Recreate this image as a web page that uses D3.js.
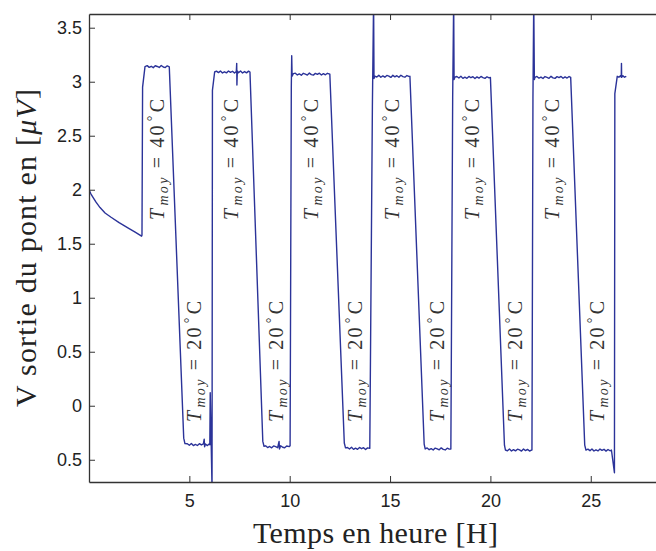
<!DOCTYPE html>
<html>
<head>
<meta charset="utf-8">
<script src="https://cdn.jsdelivr.net/npm/d3@7"></script>
<style>
  html, body { margin: 0; padding: 0; background: #fff; }
  svg { display: block; }
</style>
</head>
<body>
<svg id="chart" width="656" height="551"></svg>
<script>
// ---- data (time in hours, bridge output in µV) ----
const timeH = [
  0, 0.1, 0.2, 0.35, 0.55, 0.8, 1.1, 1.5, 2.0, 2.3, 2.62,
  2.64, 2.67, 2.79, 2.9, 3.0, 3.1, 3.2, 3.3, 3.4, 3.5, 3.6, 3.7, 3.8, 3.9, 4.0,
  4.72, 4.78, 4.9, 5.0, 5.1, 5.2, 5.3, 5.4, 5.5, 5.6, 5.7, 5.74, 5.76, 5.8, 5.9, 6.0, 6.02,
  6.04, 6.13, 6.15, 6.26,
  6.35, 6.45, 6.55, 6.65, 6.75, 6.85, 6.95, 7.05, 7.15, 7.25, 7.34, 7.36, 7.37, 7.39, 7.45, 7.55, 7.65, 7.75, 7.85, 7.95, 8.02,
  8.66, 8.72, 8.8, 8.9, 9.0, 9.1, 9.2, 9.3, 9.4, 9.47, 9.49, 9.55, 9.65, 9.75, 9.85, 9.98,
  10.02, 10.08, 10.1, 10.12, 10.18,
  10.28, 10.38, 10.48, 10.58, 10.68, 10.78, 10.88, 10.98, 11.08, 11.18, 11.28, 11.38, 11.48, 11.58, 11.68, 11.78, 11.88, 12.0,
  12.72, 12.78, 12.88, 12.98, 13.08, 13.18, 13.28, 13.38, 13.48, 13.58, 13.68, 13.78, 13.88, 13.99,
  14.12, 14.18, 14.2, 14.24,
  14.34, 14.44, 14.54, 14.64, 14.74, 14.84, 14.94, 15.04, 15.14, 15.24, 15.34, 15.44, 15.54, 15.64, 15.74, 15.84, 15.94, 15.99,
  16.7, 16.75, 16.85, 16.95, 17.05, 17.15, 17.25, 17.35, 17.45, 17.55, 17.65, 17.75, 17.85, 17.95, 18.01,
  18.03, 18.12, 18.17, 18.19, 18.23,
  18.33, 18.43, 18.53, 18.63, 18.73, 18.83, 18.93, 19.03, 19.13, 19.23, 19.33, 19.43, 19.53, 19.63, 19.73, 19.83, 19.93, 20.0,
  20.7, 20.75, 20.85, 20.95, 21.05, 21.15, 21.25, 21.35, 21.45, 21.55, 21.65, 21.75, 21.85, 21.95, 22.05,
  22.07, 22.12, 22.16, 22.19, 22.22,
  22.32, 22.42, 22.52, 22.62, 22.72, 22.82, 22.92, 23.02, 23.12, 23.22, 23.32, 23.42, 23.52, 23.62, 23.72, 23.82, 23.92, 24.0,
  24.7, 24.76, 24.86, 24.96, 25.06, 25.16, 25.26, 25.36, 25.46, 25.56, 25.66, 25.76, 25.86, 25.96, 26.03,
  26.18, 26.2, 26.32, 26.4, 26.48, 26.52, 26.53, 26.54, 26.6, 26.68, 26.77
];
const voltUV = [
  2.0, 1.96, 1.93, 1.885, 1.835, 1.785, 1.745, 1.695, 1.64, 1.608, 1.57,
  1.58, 2.95, 3.14, 3.149, 3.133, 3.143, 3.130, 3.148, 3.141, 3.132, 3.150, 3.136, 3.131, 3.147, 3.138,
  -0.30, -0.35, -0.352, -0.366, -0.350, -0.369, -0.358, -0.368, -0.351, -0.363, -0.353, -0.31, -0.38, -0.354, -0.369, -0.352, -0.362,
  0.12, -0.76, 2.92, 3.09,
  3.098, 3.084, 3.100, 3.081, 3.092, 3.082, 3.099, 3.087, 3.097, 3.080, 3.095, 3.17, 2.97, 3.10, 3.083, 3.099, 3.081, 3.094, 3.082, 3.098, 3.09,
  -0.33, -0.375, -0.371, -0.387, -0.377, -0.390, -0.372, -0.379, -0.388, -0.33, -0.40, -0.370, -0.384, -0.389, -0.373, -0.378,
  -0.37, 2.95, 3.24, 3.05, 3.075,
  3.079, 3.063, 3.073, 3.060, 3.078, 3.071, 3.062, 3.080, 3.066, 3.061, 3.077, 3.068, 3.079, 3.062, 3.075, 3.064, 3.078, 3.07,
  -0.345, -0.39, -0.387, -0.401, -0.385, -0.404, -0.393, -0.403, -0.386, -0.398, -0.388, -0.405, -0.390, -0.395,
  2.77, 3.75, 3.03, 3.052,
  3.043, 3.059, 3.041, 3.054, 3.042, 3.058, 3.052, 3.040, 3.059, 3.045, 3.056, 3.041, 3.060, 3.047, 3.042, 3.057, 3.049, 3.05,
  -0.355, -0.40, -0.391, -0.407, -0.397, -0.410, -0.392, -0.399, -0.408, -0.390, -0.404, -0.409, -0.393, -0.402, -0.40,
  -0.40, 2.85, 3.75, 3.02, 3.042,
  3.048, 3.034, 3.050, 3.031, 3.042, 3.032, 3.049, 3.037, 3.047, 3.030, 3.045, 3.033, 3.049, 3.038, 3.031, 3.046, 3.036, 3.04,
  -0.365, -0.41, -0.417, -0.401, -0.419, -0.406, -0.418, -0.402, -0.408, -0.420, -0.401, -0.415, -0.404, -0.419, -0.41,
  -0.41, 2.85, 3.75, 3.02, 3.04,
  3.049, 3.033, 3.043, 3.030, 3.048, 3.041, 3.032, 3.050, 3.036, 3.031, 3.047, 3.038, 3.049, 3.032, 3.045, 3.034, 3.048, 3.04,
  -0.365, -0.41, -0.402, -0.416, -0.400, -0.419, -0.408, -0.418, -0.401, -0.413, -0.403, -0.420, -0.405, -0.417, -0.41,
  -0.62, 2.89, 3.05, 3.042, 3.056, 3.043, 3.17, 3.04, 3.056, 3.042, 3.05
];

const xTicks = [5, 10, 15, 20, 25];
const yTicks = [-0.5, 0, 0.5, 1, 1.5, 2, 2.5, 3, 3.5];
const yTickLabels = ["0.5", "0", "0.5", "1", "1.5", "2", "2.5", "3", "3.5"];

// annotation anchors (hours, µV)
const hotLabelHours = [3.39, 7.07, 11.06, 15.09, 19.07, 23.06];
const hotLabelV = 2.28;
const coldLabelHours = [5.23, 9.31, 13.25, 17.33, 21.22, 25.3];
const coldLabelV = 0.41;
const hotTemp = "40";
const coldTemp = "20";

const xLabel = "Temps en heure [H]";
const yLabelMain = "V sortie du pont en [";
const yLabelUnit = "μV";

// ---- layout ----
const svg = d3.select("#chart");
const L = 89, R = 661, T = 14, B = 482;
const x = d3.scaleLinear().domain([0, 28.5]).range([L, R]);
const y = d3.scaleLinear().domain([-0.706, 3.627]).range([B, T]);

const lineColor = "#2b3399";
const axisColor = "#333";

svg.append("defs").append("clipPath").attr("id", "plotclip")
  .append("rect").attr("x", L).attr("y", T).attr("width", R - L).attr("height", B - T);

// data line
const n = Math.min(timeH.length, voltUV.length);
const pts = d3.range(n).map(i => [timeH[i], voltUV[i]]);
svg.append("path")
  .attr("clip-path", "url(#plotclip)")
  .attr("d", d3.line().x(d => x(d[0])).y(d => y(d[1]))(pts))
  .attr("fill", "none")
  .attr("stroke", lineColor)
  .attr("stroke-width", 1.4)
  .attr("stroke-linejoin", "round");

// axes (MATLAB style: inward ticks)
const tickFont = "'Liberation Sans', Arial, Helvetica, sans-serif";
const xAxisB = d3.axisBottom(x).tickValues(xTicks).tickSizeInner(-6).tickSizeOuter(0).tickPadding(12);
const gx = svg.append("g").attr("transform", `translate(0,${B})`).call(xAxisB);
const xAxisT = d3.axisTop(x).tickValues(xTicks).tickSizeInner(-6).tickSizeOuter(0).tickFormat("");
const gxt = svg.append("g").attr("transform", `translate(0,${T})`).call(xAxisT);
const yAxisL = d3.axisLeft(y).tickValues(yTicks).tickSizeInner(-6).tickSizeOuter(0).tickPadding(7)
  .tickFormat((d, i) => yTickLabels[i]);
const gy = svg.append("g").attr("transform", `translate(${L},0)`).call(yAxisL);

[gx, gxt, gy].forEach(g => {
  g.selectAll("path.domain").attr("stroke", axisColor).attr("stroke-width", 1.3);
  g.selectAll(".tick line").attr("stroke", axisColor).attr("stroke-width", 1);
  g.selectAll(".tick text").attr("fill", "#222").style("font-family", tickFont).style("font-size", "18px");
});

// annotations
const serif = "'Liberation Serif', 'DejaVu Serif', serif";
function addTempLabel(t, v, temp) {
  const cx = x(t), cy = y(v);
  const txt = svg.append("text")
    .attr("transform", `translate(${cx},${cy}) rotate(-90)`)
    .attr("text-anchor", "middle")
    .attr("dy", "0.35em")
    .attr("textLength", 121)
    .attr("lengthAdjust", "spacing")
    .attr("fill", "#333")
    .style("font-family", serif)
    .style("font-size", "20px");
  txt.append("tspan").attr("font-style", "italic").text("T");
  txt.append("tspan").attr("font-style", "italic").attr("font-size", "14px").attr("dx", "1").attr("dy", "4").text("moy");
  txt.append("tspan").attr("dx", "7").attr("dy", "-4").text("=");
  txt.append("tspan").attr("dx", "7").text(temp);
  txt.append("tspan").attr("font-size", "14px").attr("dx", "2").attr("dy", "-7").text("°");
  txt.append("tspan").attr("dx", "1").attr("dy", "7").text("C");
}
hotLabelHours.forEach(t => addTempLabel(t, hotLabelV, hotTemp));
coldLabelHours.forEach(t => addTempLabel(t, coldLabelV, coldTemp));

// axis titles
svg.append("text")
  .attr("x", 375.5).attr("y", 543)
  .attr("text-anchor", "middle")
  .attr("textLength", 245)
  .attr("lengthAdjust", "spacing")
  .attr("fill", "#222")
  .style("font-family", serif).style("font-size", "30px")
  .text(xLabel);

const yl = svg.append("text")
  .attr("transform", `translate(36,${(T + B) / 2}) rotate(-90)`)
  .attr("text-anchor", "middle")
  .attr("textLength", 318)
  .attr("lengthAdjust", "spacing")
  .attr("fill", "#222")
  .style("font-family", serif).style("font-size", "30px");
yl.append("tspan").text(yLabelMain);
yl.append("tspan").attr("font-style", "italic").text(yLabelUnit);
yl.append("tspan").text("]");
</script>
</body>
</html>
